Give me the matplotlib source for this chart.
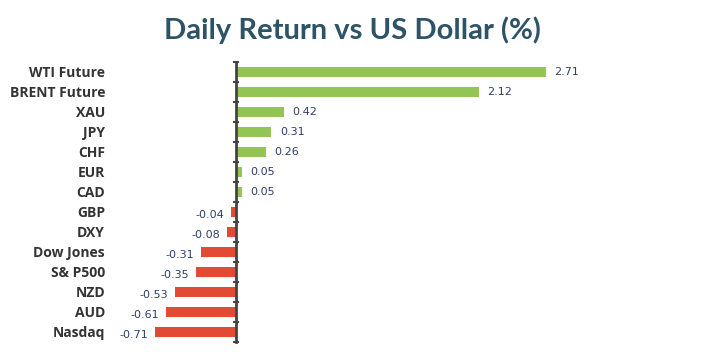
import numpy as np
import matplotlib.pyplot as plt
import matplotlib.transforms as mtransforms

# Data
categories = ['WTI Future', 'BRENT Future', 'XAU', 'JPY', 'CHF', 'EUR', 'CAD',
              'GBP', 'DXY', 'Dow Jones', 'S& P500', 'NZD', 'AUD', 'Nasdaq']
values = [2.71, 2.12, 0.42, 0.31, 0.26, 0.05, 0.05,
          -0.04, -0.08, -0.31, -0.35, -0.53, -0.61, -0.71]

green = '#92C554'
red = '#E24A33'
label_color = '#333333'
value_color = '#2F3E6E'

fig = plt.figure(figsize=(7.04, 3.52), dpi=100)
# axes: left at 150px, right at 560px, bottom at 342px, top at 62px
ax = fig.add_axes([150 / 704, (352 - 342) / 352, 410 / 704, 280 / 352])

y = np.arange(len(categories))
colors = [green if v >= 0 else red for v in values]
ax.barh(y, values, height=0.47, color=colors, zorder=2)

# 0 at 236px -> scale 114.4 px per unit
scale = 114.4
ax.set_xlim(-(236 - 150) / scale, (560 - 236) / scale)
ax.set_ylim(len(categories) - 0.5, -0.5)

for s in ['top', 'right', 'bottom']:
    ax.spines[s].set_visible(False)
ax.spines['left'].set_position(('data', 0))
ax.spines['left'].set_color('#444444')
ax.spines['left'].set_linewidth(2)
ax.set_xticks([])
ax.set_yticks(y)
ax.set_yticklabels([])
ax.tick_params(axis='y', which='major', length=0)
ax.set_yticks(np.arange(len(categories) + 1) - 0.5, minor=True)
ax.tick_params(axis='y', which='minor', direction='inout', length=5,
               width=1.5, color='#444444')

# category labels, right aligned at x=105px
trans = mtransforms.blended_transform_factory(fig.transFigure, ax.transData)
for yi, name in zip(y, categories):
    ax.text(105 / 704, yi + 0.05, name, transform=trans, ha='right', va='center',
            fontsize=10, fontweight='bold', color=label_color,
            family='Open Sans')

# value labels
for yi, v in zip(y, values):
    if v >= 0:
        ax.annotate(f'{v:.2f}', (v, yi), xytext=(6, 0), textcoords='offset points',
                    ha='left', va='center', fontsize=8, color=value_color)
    else:
        ax.annotate(f'{v:.2f}', (v, yi), xytext=(-5, -2), textcoords='offset points',
                    ha='right', va='center', fontsize=8, color=value_color)

fig.text(0.5, 1 - 30 / 352, 'Daily Return vs US Dollar (%)', ha='center', va='center',
         fontsize=21, fontweight='bold', color='#2D5367', family='Lato')

fig.savefig('out.png', dpi=100)
